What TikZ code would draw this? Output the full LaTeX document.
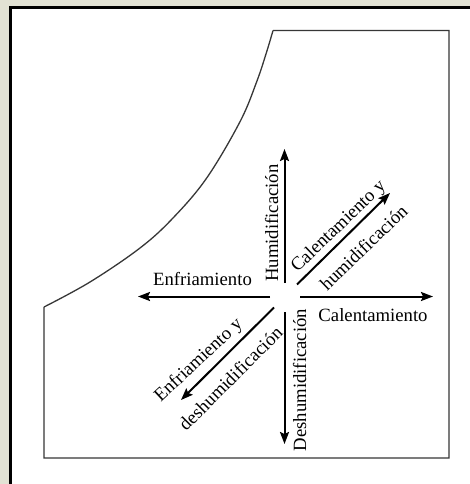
\documentclass[tikz,border=0pt]{standalone}
\usepackage{fontspec}
\setmainfont{Liberation Serif}
\usetikzlibrary{arrows.meta}
\definecolor{bgbeige}{RGB}{226,226,212}
\definecolor{framegrey}{RGB}{55,55,55}
\tikzset{
  flow/.style={line width=2pt,-{Stealth[length=12pt,width=9pt,inset=2pt]}},
  lbl/.style={font=\fontsize{18.7}{20}\selectfont,inner sep=0pt,anchor=base},
  frameline/.style={line width=1.3pt,draw=framegrey,line join=miter}
}
\begin{document}
\begin{tikzpicture}[x=1pt,y=-1pt]
\useasboundingbox (0,0) rectangle (470,484);
\fill[bgbeige] (0,0) rectangle (470,484);
\fill[white] (10.5,8) rectangle (472,486);
\draw[line width=3pt,black] (10.5,490) -- (10.5,8) -- (475,8);
% chart boundary
\draw[frameline] (273,30.5) -- (449,30.5) -- (449,458) -- (44,458) -- (44,307)
  plot[smooth,tension=0.6] coordinates {(44,307) (90,282) (140,248) (173,218) (206.7,178) (240,121.7) (256.7,81.7) (266.7,51.7) (273,30.5)};
% centre and arrow ends
\coordinate (c) at (285.5,296.5);
\coordinate (lt) at (270,296.5);  \coordinate (lh) at (138,296.5);
\coordinate (rt) at (300,296.5);  \coordinate (rh) at (433,296.5);
\coordinate (ut) at (284.5,283); \coordinate (uh) at (284.5,149);
\coordinate (dt) at (284.5,312); \coordinate (dh) at (284.5,444);
\coordinate (urt) at (297,284.5);  \coordinate (urh) at (390,193);
\coordinate (dlt) at (274,307.5); \coordinate (dlh) at (181,400);
\draw[flow] (lt) -- (lh);
\draw[flow] (rt) -- (rh);
\draw[flow] (ut) -- (uh);
\draw[flow] (dt) -- (dh);
\draw[flow] (urt) -- (urh);
\draw[flow] (dlt) -- (dlh);
% labels
\node[lbl] (enf) at (202.5,285) {Enfriamiento};
\node[lbl] (cal) at (373,321) {Calentamiento};
\node[lbl,rotate=90] (hum) at (278,223) {Humidificación};
\node[lbl,rotate=90] (des) at (306,380) {Deshumidificación};
\node[lbl,rotate=44] (caly) at (342,230) {Calentamiento y};
\node[lbl,rotate=44] (humi) at (368,252) {humidificación};
\node[lbl,rotate=43] (enfy) at (202,364) {Enfriamiento y};
\node[lbl,rotate=45] (desh) at (235,383) {deshumidificación};
\end{tikzpicture}
\end{document}
